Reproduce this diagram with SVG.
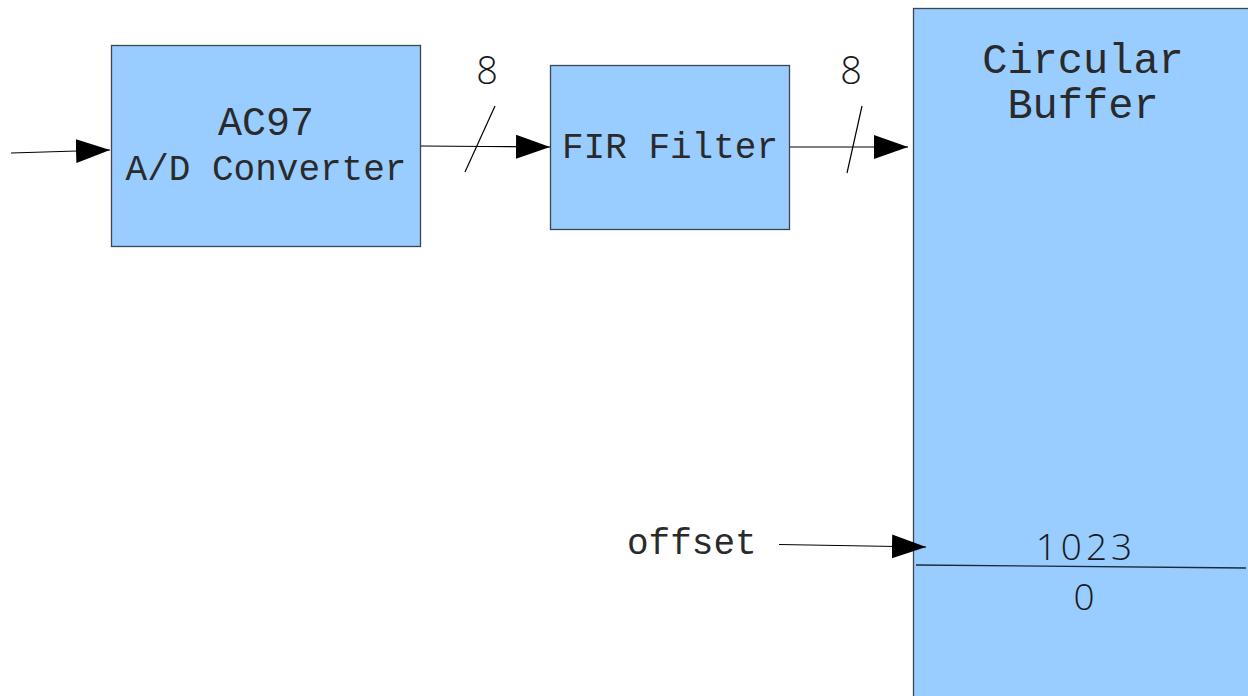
<svg xmlns="http://www.w3.org/2000/svg" width="1248" height="696" viewBox="0 0 1248 696">
  <style>
    .box { fill: #99ccff; stroke: #3c4650; stroke-width: 1.3; }
    .mono { font-family: "Liberation Mono", "DejaVu Sans Mono", monospace; fill: #2a2a2a; }
    .num { font-family: "Open Sans", "Liberation Sans", sans-serif; font-weight: 300; fill: #1a1a1a; }
    .wire { stroke: #000; stroke-width: 1.2; fill: none; }
  </style>
  <defs>
    <marker id="arrow" viewBox="0 0 34 24" refX="34" refY="12" markerWidth="34" markerHeight="24" markerUnits="userSpaceOnUse" orient="auto">
      <path d="M0,0 L34,12 L0,24 Z" fill="#000"/>
    </marker>
  </defs>
  <rect width="1248" height="696" fill="#fff"/>

  <g id="adc">
    <rect class="box" x="111.5" y="45.5" width="309" height="201"/>
    <text class="mono" x="266" y="135" font-size="40" text-anchor="middle">AC97</text>
    <text class="mono" x="266" y="180" font-size="36" text-anchor="middle">A/D Converter</text>
  </g>

  <g id="fir">
    <rect class="box" x="550.5" y="65.5" width="239" height="164"/>
    <text class="mono" x="670" y="158" font-size="36" text-anchor="middle">FIR Filter</text>
  </g>

  <g id="buffer">
    <rect class="box" x="913.5" y="8.5" width="345" height="700"/>
    <text class="mono" x="1083" y="73" font-size="42" text-anchor="middle">Circular</text>
    <text class="mono" x="1083" y="118" font-size="42" text-anchor="middle">Buffer</text>
    <line x1="916" y1="565" x2="1246" y2="568" stroke="#1a2a3a" stroke-width="1.3"/>
    <text class="num" x="1086" y="560" font-size="37" letter-spacing="4" text-anchor="middle">1023</text>
    <text class="num" x="1084" y="610" font-size="37" text-anchor="middle">0</text>
  </g>

  <g id="offset-label">
    <text class="mono" x="627" y="554" font-size="36">offset</text>
  </g>

  <g id="connectors">
    <line class="wire" x1="11" y1="153" x2="110" y2="150" marker-end="url(#arrow)"/>
    <polyline class="wire" points="421,146 486,146.5 550,147" marker-end="url(#arrow)"/>
    <line class="wire" x1="465" y1="172" x2="495" y2="106"/>
    <text class="num" x="487" y="84" font-size="38" text-anchor="middle">8</text>
    <line class="wire" x1="790" y1="147" x2="908" y2="147" marker-end="url(#arrow)"/>
    <line class="wire" x1="847" y1="173" x2="862" y2="106"/>
    <text class="num" x="851" y="84" font-size="38" text-anchor="middle">8</text>
    <line class="wire" x1="779" y1="544.5" x2="926" y2="547" marker-end="url(#arrow)"/>
  </g>
</svg>
